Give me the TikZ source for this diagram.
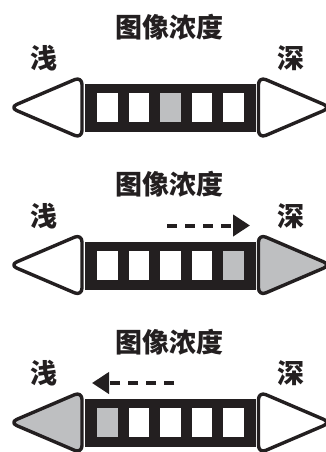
\documentclass[tikz,border=0pt]{standalone}
\usepackage{fontspec}
\newfontfamily\cjk{Noto Sans CJK SC}
\usetikzlibrary{arrows.meta}

\begin{document}
\begin{tikzpicture}[x=1pt,y=-1pt,
  lbl/.style={font=\cjk\bfseries\fontsize{27}{27}\selectfont,text=ink,inner sep=0pt},
  tri/.style={draw=ink,line width=3.4pt,rounded corners=8pt,line join=round},
  shift arrow/.style={draw=ink,line width=4pt,dash pattern=on 10pt off 8pt,
    -{Triangle[length=17pt,width=21pt]}}]
\definecolor{ink}{RGB}{35,31,32}
\definecolor{cellgray}{RGB}{190,191,193}
\useasboundingbox (0,0) rectangle (326,452);
% ===== three panels: \p = panel, \g = gray cell, \lt / \rt = triangle fills =====
\foreach \p/\g/\lt/\rt in {0/2/white/white,1/4/white/cellgray,2/0/cellgray/white}{
  \begin{scope}[shift={(0,157.5*\p)}]
    \node[lbl] (title\p) at (169.5,27) {图像浓度};
    \node[lbl] (light\p) at (44,58.5) {浅};
    \node[lbl] (dark\p) at (290.5,58.5) {深};
    % bar with five cells
    \fill[ink] (85,84) rectangle (256,132);
    \foreach \c in {0,...,4}{
      \pgfmathsetmacro\cx{97+31.5*\c}
      \ifnum\c=\g
        \fill[cellgray] (\cx,93) rectangle (\cx+20.5,122);
      \else
        \fill[white] (\cx,93) rectangle (\cx+20.5,122);
      \fi}
    % end triangles
    \draw[tri,fill=\lt] (82,76.5) -- (9.5,107.5) -- (82,138.5) -- cycle;
    \draw[tri,fill=\rt] (258.5,76.5) -- (331,107.5) -- (258.5,138.5) -- cycle;
  \end{scope}}
% ===== direction arrows =====
\coordinate (darkfrom) at (167,225.5);
\coordinate (darkto) at (250,225.5);
\draw[shift arrow] (darkfrom) -- (darkto);
\coordinate (lightfrom) at (174,383);
\coordinate (lightto) at (92,383);
\draw[shift arrow] (lightfrom) -- (lightto);
\end{tikzpicture}
\end{document}
